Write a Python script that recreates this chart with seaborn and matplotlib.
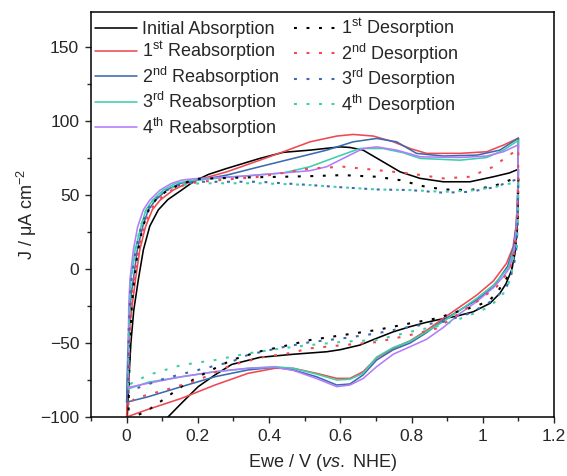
import matplotlib
matplotlib.use("Agg")
import matplotlib.pyplot as plt
import seaborn as sns
import pandas as pd
from matplotlib.ticker import MultipleLocator, FuncFormatter

# ---------------- data ----------------
# Each cycle: anodic (upper) branch followed by cathodic (lower) branch
INIT_E = [0.0, 0.005, 0.012, 0.02, 0.033, 0.047, 0.065, 0.089, 0.116, 0.158, 0.187, 0.23, 0.281, 0.374, 0.44, 0.515,
          0.6, 0.627, 0.664, 0.72, 0.768, 0.824, 0.889, 0.964, 1.03, 1.075, 1.1,
          1.099, 1.096, 1.09, 1.081, 1.065, 1.048, 1.02, 0.973, 0.927, 0.88, 0.842, 0.795, 0.749, 0.7, 0.655, 0.6,
          0.562, 0.468, 0.374, 0.295, 0.248, 0.201, 0.154, 0.117, 0.1]
INIT_J = [-112, -80, -50, -28, -7, 13, 29, 40, 47, 54, 59, 64, 68, 74.8, 78.9, 80.4,
          82.6, 82.2, 80.4, 72.5, 65.7, 61.3, 59, 59, 62.4, 65, 67.5,
          45, 25, 10, -0.7, -10, -16.4, -23.2, -28.9, -31.8, -34, -36, -39, -42.4, -47, -51.4, -54.5,
          -55.9, -57.6, -59.7, -64.5, -71.6, -79.5, -90.7, -99.8, -106]

RE1_E = [0.0, 0.004, 0.01, 0.018, 0.025, 0.037, 0.053, 0.072, 0.094, 0.131, 0.168, 0.2, 0.281, 0.374, 0.44, 0.515,
         0.59, 0.636, 0.693, 0.749, 0.796, 0.842, 0.936, 1.011, 1.058, 1.1,
         1.098, 1.094, 1.085, 1.067, 1.03, 0.983, 0.936, 0.889, 0.842, 0.796, 0.749, 0.702, 0.664, 0.627, 0.59,
         0.533, 0.468, 0.416, 0.341, 0.248, 0.154, 0.061, 0.0]
RE1_J = [-100, -60, -35, -20, -7, 13, 28.6, 40, 46.6, 53.4, 57.9, 60.3, 65.7, 73.6, 79.3, 86,
         89.9, 91, 89.9, 86, 81.5, 78.2, 78.2, 79.3, 83.8, 88.5,
         50, 30, 15, 4, -8, -17.6, -25.5, -33.3, -41.5, -48.5, -53.5, -60, -69.4, -73.9, -73.9,
         -70.5, -67.1, -67.1, -70.5, -78.4, -87.4, -94.8, -100]

RE2_E = [0.0, 0.003, 0.008, 0.014, 0.019, 0.03, 0.045, 0.061, 0.081, 0.112, 0.15, 0.187, 0.281, 0.374, 0.468, 0.562,
         0.636, 0.702, 0.758, 0.814, 0.889, 0.983, 1.048, 1.1,
         1.098, 1.094, 1.087, 1.07, 1.03, 0.983, 0.936, 0.889, 0.842, 0.796, 0.749, 0.702, 0.664, 0.627, 0.59,
         0.533, 0.468, 0.416, 0.341, 0.248, 0.154, 0.061, 0.0]
RE2_J = [-90, -60, -30, -15, -7, 13, 28.6, 40, 46.6, 53.4, 57.9, 59.5, 63.5, 69.2, 74.8, 80.4,
         86, 88.3, 86, 78.2, 76.4, 77, 80.4, 88.5,
         50, 30, 15, 2, -12, -20.9, -27.7, -34.5, -43, -50, -54.5, -61.5, -71.6, -77.7, -78.4,
         -72.8, -68.2, -66.4, -68.2, -72.8, -79.5, -86.3, -90]

RE3_E = [0.005, 0.006, 0.008, 0.012, 0.024, 0.04, 0.054, 0.073, 0.103, 0.138, 0.187, 0.327, 0.44, 0.515, 0.59,
         0.655, 0.72, 0.777, 0.824, 0.936, 1.011, 1.058, 1.1,
         1.098, 1.095, 1.089, 1.072, 1.03, 0.983, 0.936, 0.889, 0.842, 0.796, 0.749, 0.702, 0.664, 0.627, 0.59,
         0.533, 0.468, 0.416, 0.341, 0.248, 0.154, 0.061, 0.005]
RE3_J = [-81, -50, -25, -7, 13, 28.6, 40, 46.6, 53.4, 58, 60.1, 62.8, 65, 69.2, 75.9,
         81.5, 81.5, 78.6, 74.8, 73.6, 75.4, 80.4, 87,
         50, 30, 15, 1, -10.8, -19.8, -27.7, -35.6, -42.4, -48.8, -53, -59.5, -70.5, -74.5, -75,
         -71, -67.1, -66, -67.1, -69.4, -72.8, -76.5, -81]

RE4_E = [0.005, 0.005, 0.006, 0.0095, 0.019, 0.031, 0.047, 0.065, 0.094, 0.126, 0.154, 0.187, 0.327, 0.44, 0.515,
         0.562, 0.608, 0.664, 0.702, 0.758, 0.824, 0.936, 1.011, 1.058, 1.1,
         1.098, 1.095, 1.09, 1.076, 1.058, 1.03, 0.983, 0.936, 0.889, 0.842, 0.796, 0.749, 0.702, 0.664, 0.627,
         0.59, 0.533, 0.468, 0.416, 0.341, 0.248, 0.154, 0.061, 0.005]
RE4_J = [-80, -50, -25, -7, 13, 28.6, 40, 46.6, 53.4, 57.9, 60.1, 61, 62.8, 65, 66.5,
         69.2, 74.8, 81.5, 82.6, 80.4, 75.9, 75.4, 76.4, 79.3, 84,
         50, 30, 15, 1, -5, -12.5, -22, -30, -39.5, -47.5, -52.5, -57.5, -66, -74, -78.4,
         -79.5, -74, -68.5, -66.4, -67.1, -69.4, -72.8, -77.2, -80]

DES1_E = [0.005, 0.008, 0.013, 0.02, 0.03, 0.045, 0.062, 0.085, 0.12, 0.16, 0.197, 0.346, 0.44, 0.515, 0.608,
          0.702, 0.768, 0.833, 0.889, 0.964, 1.03, 1.076, 1.1,
          1.098, 1.093, 1.081, 1.058, 1.039, 1.02, 0.983, 0.927, 0.871, 0.796, 0.702, 0.608, 0.515, 0.435, 0.37,
          0.295, 0.248, 0.201, 0.154, 0.108, 0.061, 0.033, 0.005]
DES1_J = [-104, -60, -30, -10, 10, 28, 40, 48, 54, 58, 61, 62, 62.4, 62.8, 63.5,
          62.4, 60.1, 56, 53.8, 53.4, 56, 60.1, 62,
          30, 19.6, -0.7, -9.7, -16, -20.9, -25, -28.9, -33.3, -36.7, -41.2, -44.6, -48, -52.5, -55.9,
          -61.5, -67.1, -72.8, -79.5, -87.4, -95.3, -98.6, -104]

DES2_E = [0.005, 0.008, 0.014, 0.022, 0.035, 0.05, 0.07, 0.095, 0.13, 0.17, 0.206, 0.374, 0.515, 0.608, 0.702,
          0.796, 0.889, 0.964, 1.03, 1.067, 1.1,
          1.098, 1.092, 1.076, 1.039, 0.983, 0.927, 0.871, 0.796, 0.702, 0.608, 0.515, 0.454, 0.388, 0.295,
          0.201, 0.108, 0.023, 0.005]
DES2_J = [-92, -50, -20, -5, 15, 30, 41, 48, 54, 57.5, 59, 62.4, 68, 69.2, 66.9,
          64.6, 61.3, 62.4, 69.2, 75.9, 81,
          40, 15, -0.7, -12, -22.1, -31, -40.1, -44.6, -49.4, -51.4, -53.6, -57, -59.3, -64.9,
          -75, -81.8, -87.4, -92]

DES3_E = [0.004, 0.006, 0.012, 0.025, 0.04, 0.058, 0.08, 0.11, 0.15, 0.206, 0.374, 0.515, 0.608, 0.702, 0.796,
          0.889, 0.964, 1.03, 1.076, 1.1,
          1.098, 1.093, 1.084, 1.067, 1.03, 0.964, 0.889, 0.796, 0.702, 0.608, 0.515, 0.435, 0.341, 0.295,
          0.201, 0.108, 0.014, 0.004]
DES3_J = [-84, -40, -10, 12, 28, 40, 47, 53, 57, 59, 59, 56.8, 55.2, 53.8, 53.4,
          51.6, 52.2, 55.2, 59, 61,
          30, 10, -1, -12, -20.9, -29.9, -35.6, -39, -43.5, -46.8, -49.4, -53, -58, -62.6,
          -68.2, -73.9, -81.8, -84]

DES4_E = [0.004, 0.006, 0.011, 0.023, 0.038, 0.055, 0.076, 0.105, 0.145, 0.206, 0.374, 0.515, 0.608, 0.702, 0.796,
          0.889, 0.964, 1.03, 1.076, 1.1,
          1.099, 1.096, 1.084, 1.081, 1.058, 1.02, 0.964, 0.889, 0.796, 0.702, 0.608, 0.515, 0.435, 0.341,
          0.248, 0.154, 0.061, 0.014, 0.004]
DES4_J = [-79, -40, -10, 12, 28, 40, 47, 53, 56.5, 58, 58, 56.8, 55.2, 53.8, 53.4,
          52.2, 53, 55.2, 57.8, 59.5,
          35, 15, 6, -5.2, -16.4, -25.5, -31.1, -37.8, -42.4, -48, -49.1, -51.4, -53.6, -57,
          -61.5, -64.9, -71.6, -77.2, -79]

LABELS = ["Initial Absorption",
          "1$^{\\mathrm{st}}$ Reabsorption", "2$^{\\mathrm{nd}}$ Reabsorption",
          "3$^{\\mathrm{rd}}$ Reabsorption", "4$^{\\mathrm{th}}$ Reabsorption",
          "1$^{\\mathrm{st}}$ Desorption", "2$^{\\mathrm{nd}}$ Desorption",
          "3$^{\\mathrm{rd}}$ Desorption", "4$^{\\mathrm{th}}$ Desorption"]
X_TICKS = [0, 0.2, 0.4, 0.6, 0.8, 1.0, 1.2]
Y_TICKS = [-100, -50, 0, 50, 100, 150]

# ---------------- style ----------------
sns.set_style("ticks")
plt.rcParams["font.family"] = ["Liberation Sans", "DejaVu Sans"]
plt.rcParams["mathtext.fontset"] = "custom"
plt.rcParams["mathtext.rm"] = "Liberation Sans"
plt.rcParams["mathtext.it"] = "Liberation Sans:italic"
plt.rcParams["mathtext.bf"] = "Liberation Sans:bold"

BLACK = "#000000"
RED = "#F04850"
BLUE = "#3A6BB0"
TEAL = "#3DCFAA"
PURPLE = "#B47BFA"
DOT = (0, (1.4, 4.6))

fig = plt.figure(figsize=(5.67, 4.76), dpi=100)
ax = fig.add_axes([0.1605, 0.124, 0.8166, 0.8515])

curves = [
    (INIT_E, INIT_J, BLACK, "-"),
    (RE1_E, RE1_J, RED, "-"),
    (RE2_E, RE2_J, BLUE, "-"),
    (RE3_E, RE3_J, TEAL, "-"),
    (RE4_E, RE4_J, PURPLE, "-"),
    (DES1_E, DES1_J, BLACK, DOT),
    (DES2_E, DES2_J, RED, DOT),
    (DES3_E, DES3_J, BLUE, DOT),
    (DES4_E, DES4_J, TEAL, DOT),
]

for (E, J, c, ls), lab in zip(curves, LABELS):
    df = pd.DataFrame({"E": E, "J": J})
    lw = 1.15 if ls == "-" else 1.5
    sns.lineplot(data=df, x="E", y="J", sort=False, estimator=None, color=c,
                 linestyle=ls, linewidth=lw, label=lab, ax=ax)

ax.set_xlim(-0.1, 1.2)
ax.set_ylim(-100, 174)
ax.set_xticks(X_TICKS)
ax.set_yticks(Y_TICKS)
ax.xaxis.set_minor_locator(MultipleLocator(0.1))
ax.yaxis.set_minor_locator(MultipleLocator(25))
ax.xaxis.set_major_formatter(FuncFormatter(lambda v, p: f"{v:g}"))
ax.tick_params(which="major", direction="out", length=4.5, width=1.0, labelsize=12.5, pad=4,
               top=False, right=False)
ax.tick_params(which="minor", direction="out", length=2.6, width=1.0, top=False, right=False)
for s in ax.spines.values():
    s.set_linewidth(1.1)
    s.set_color("black")

ax.set_xlabel("Ewe / V ($\\mathit{vs.}$ NHE)", fontsize=13, labelpad=6)
ax.set_ylabel("J / \u03bcA cm$^{\\mathrm{-2}}$", fontsize=13, labelpad=1)

ax.legend(loc="upper left", bbox_to_anchor=(0.0086, 0.988), ncol=2, frameon=False,
          fontsize=13, handlelength=2.35, handletextpad=0.25, columnspacing=0.8,
          labelspacing=0.08, borderpad=0, borderaxespad=0)

fig.savefig("out.png", dpi=100)
